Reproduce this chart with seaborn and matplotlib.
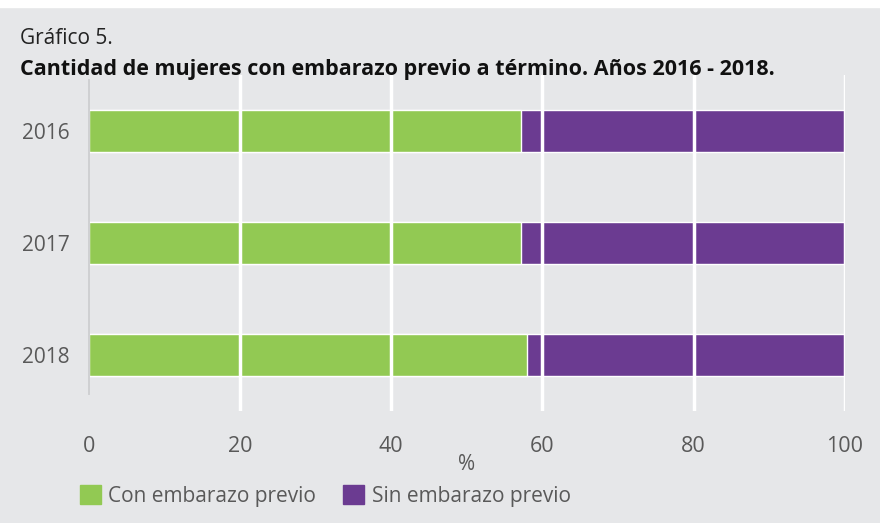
import matplotlib
matplotlib.use('Agg')
import matplotlib.pyplot as plt
import matplotlib.patches as mpatches
import seaborn as sns
import pandas as pd

# datos
anios = ['2016', '2017', '2018']
con_embarazo = [57.1, 57.1, 57.9]
sin_embarazo = [42.9, 42.9, 42.1]
ticks_x = [0, 20, 40, 60, 80, 100]

verde = '#92c953'
violeta = '#6b3b91'
fondo = '#e6e7e9'
gris_texto = '#595959'

sns.set_style('white')
plt.rcParams['font.family'] = ['Open Sans', 'DejaVu Sans']

df = pd.DataFrame({'anio': anios, 'con': con_embarazo, 'sin': sin_embarazo})
df['total'] = df['con'] + df['sin']

fig = plt.figure(figsize=(8.8, 5.23), dpi=100, facecolor=fondo)
ax = fig.add_axes([0.101, 0.214, 0.859, 0.643])
ax.set_facecolor(fondo)

# barras apiladas: primero el total (violeta), luego la parte verde encima
sns.barplot(data=df, x='total', y='anio', color=violeta, width=0.38,
            orient='h', ax=ax, saturation=1)
sns.barplot(data=df, x='con', y='anio', color=verde, width=0.38,
            orient='h', ax=ax, saturation=1)

ax.set_xlim(0, 100)
ax.set_xticks(ticks_x)
ax.grid(axis='x', color='white', lw=2.5)
ax.grid(axis='y', visible=False)
ax.set_axisbelow(False)
ax.xaxis.get_gridlines()[0].set_visible(False)

for s in ['top', 'right', 'bottom']:
    ax.spines[s].set_visible(False)
ax.spines['left'].set_color('#cfd0d2')
ax.spines['left'].set_linewidth(1.4)
ax.spines['left'].set_bounds(-0.45, 2.35)

ax.tick_params(axis='x', length=0, pad=18, labelsize=15.5, labelcolor=gris_texto)
ax.tick_params(axis='y', length=0, pad=14, labelsize=15, labelcolor=gris_texto)
ax.set_xlabel('%', fontsize=15, color=gris_texto, labelpad=-2)
ax.set_ylabel('')

fig.text(0.023, 0.927, 'Gráfico 5.', fontsize=15, color='#222222', va='center')
fig.text(0.023, 0.868, 'Cantidad de mujeres con embarazo previo a término. Años 2016 - 2018.',
         fontsize=15.5, fontweight='bold', color='#111111', va='center')

handles = [mpatches.Patch(color=verde, label='Con embarazo previo'),
           mpatches.Patch(color=violeta, label='Sin embarazo previo')]
leg = fig.legend(handles=handles, loc='lower left', bbox_to_anchor=(0.07, -0.005),
                 ncol=2, frameon=False, fontsize=15, handlelength=1.0,
                 handleheight=1.0, handletextpad=0.35, columnspacing=1.3)
for t in leg.get_texts():
    t.set_color(gris_texto)

# borde blanco superior del marco
fig.add_artist(plt.Line2D([0, 1], [0.993, 0.993], color='white', lw=6,
                          transform=fig.transFigure))

fig.savefig('out.png', dpi=100, facecolor=fondo)
